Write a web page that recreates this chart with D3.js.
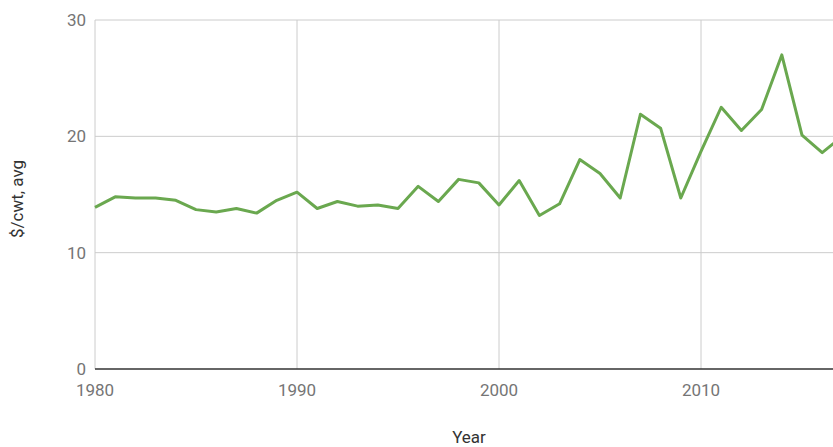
<!DOCTYPE html>
<html>
<head>
<meta charset="utf-8">
<script src="https://cdn.jsdelivr.net/npm/d3@7"></script>
<style>
    html, body { margin: 0; padding: 0; background: #fff; }
    svg { display: block; font-family: Roboto, "Noto Sans", sans-serif; }
</style>
</head>
<body>
<div id="chart"></div>
<script>
// Data
const years = [
    1980, 1981, 1982, 1983, 1984, 1985, 1986, 1987, 1988, 1989,
    1990, 1991, 1992, 1993, 1994, 1995, 1996, 1997, 1998, 1999,
    2000, 2001, 2002, 2003, 2004, 2005, 2006, 2007, 2008, 2009,
    2010, 2011, 2012, 2013, 2014, 2015, 2016, 2017,
];
const prices = [
    13.9, 14.8, 14.7, 14.7, 14.5, 13.7, 13.5, 13.8, 13.4, 14.5,
    15.2, 13.8, 14.4, 14.0, 14.1, 13.8, 15.7, 14.4, 16.3, 16.0,
    14.1, 16.2, 13.2, 14.2, 18.0, 16.8, 14.7, 21.9, 20.7, 14.7,
    18.7, 22.5, 20.5, 22.3, 27.0, 20.1, 18.6, 20.0,
];
const xTicks = [1980, 1990, 2000, 2010];
const yTicks = [0, 10, 20, 30];

const W = 833;
const H = 447;
const m = { left: 95, top: 20, bottom: 78 };
const FONT_SIZE = 17;

const svg = d3.select("#chart").append("svg")
    .attr("width", W)
    .attr("height", H);

// plot runs off the right edge, as in the original
const x = d3.scaleLinear().domain([1980, 2017]).range([m.left, m.left + 37 * 20.2]);
const y = d3.scaleLinear().domain([0, 30]).range([H - m.bottom, m.top]);

const grid = svg.append("g");

//Horizontal gridlines
grid.selectAll(".hg").data(yTicks.filter((d) => d > 0)).join("line")
    .attr("x1", m.left).attr("x2", W)
    .attr("y1", (d) => y(d)).attr("y2", (d) => y(d))
    .attr("stroke", "#cccccc").attr("stroke-width", 1);

//Vertical gridlines
grid.selectAll(".vg").data(xTicks).join("line")
    .attr("x1", (d) => x(d)).attr("x2", (d) => x(d))
    .attr("y1", y(30)).attr("y2", y(0))
    .attr("stroke", "#cccccc").attr("stroke-width", 1);

//Baseline
svg.append("line")
    .attr("x1", m.left).attr("x2", W)
    .attr("y1", y(0)).attr("y2", y(0))
    .attr("stroke", "#333333").attr("stroke-width", 1.3);

// Price line
const line = d3.line()
    .x((d, i) => x(years[i]))
    .y((d) => y(d));

svg.append("path")
    .attr("d", line(prices))
    .attr("fill", "none")
    .attr("stroke", "#6aa84f")
    .attr("stroke-width", 3)
    .attr("stroke-linejoin", "round");

//Tick labels
svg.append("g").selectAll("text").data(yTicks).join("text")
    .attr("x", m.left - 9)
    .attr("y", (d) => y(d))
    .attr("dy", "0.35em")
    .attr("text-anchor", "end")
    .attr("font-size", FONT_SIZE)
    .attr("fill", "#757575")
    .text((d) => d);

svg.append("g").selectAll("text").data(xTicks).join("text")
    .attr("x", (d) => x(d))
    .attr("y", y(0) + 27)
    .attr("text-anchor", "middle")
    .attr("font-size", FONT_SIZE)
    .attr("fill", "#757575")
    .text((d) => d);

//Axis titles
svg.append("text")
    .attr("x", 469)
    .attr("y", 443)
    .attr("text-anchor", "middle")
    .attr("font-size", FONT_SIZE)
    .attr("fill", "#333333")
    .text("Year");

svg.append("text")
    .attr("transform", `translate(23, 199) rotate(-90)`)
    .attr("text-anchor", "middle")
    .attr("font-size", FONT_SIZE)
    .attr("fill", "#333333")
    .text("$/cwt, avg");
</script>
</body>
</html>
